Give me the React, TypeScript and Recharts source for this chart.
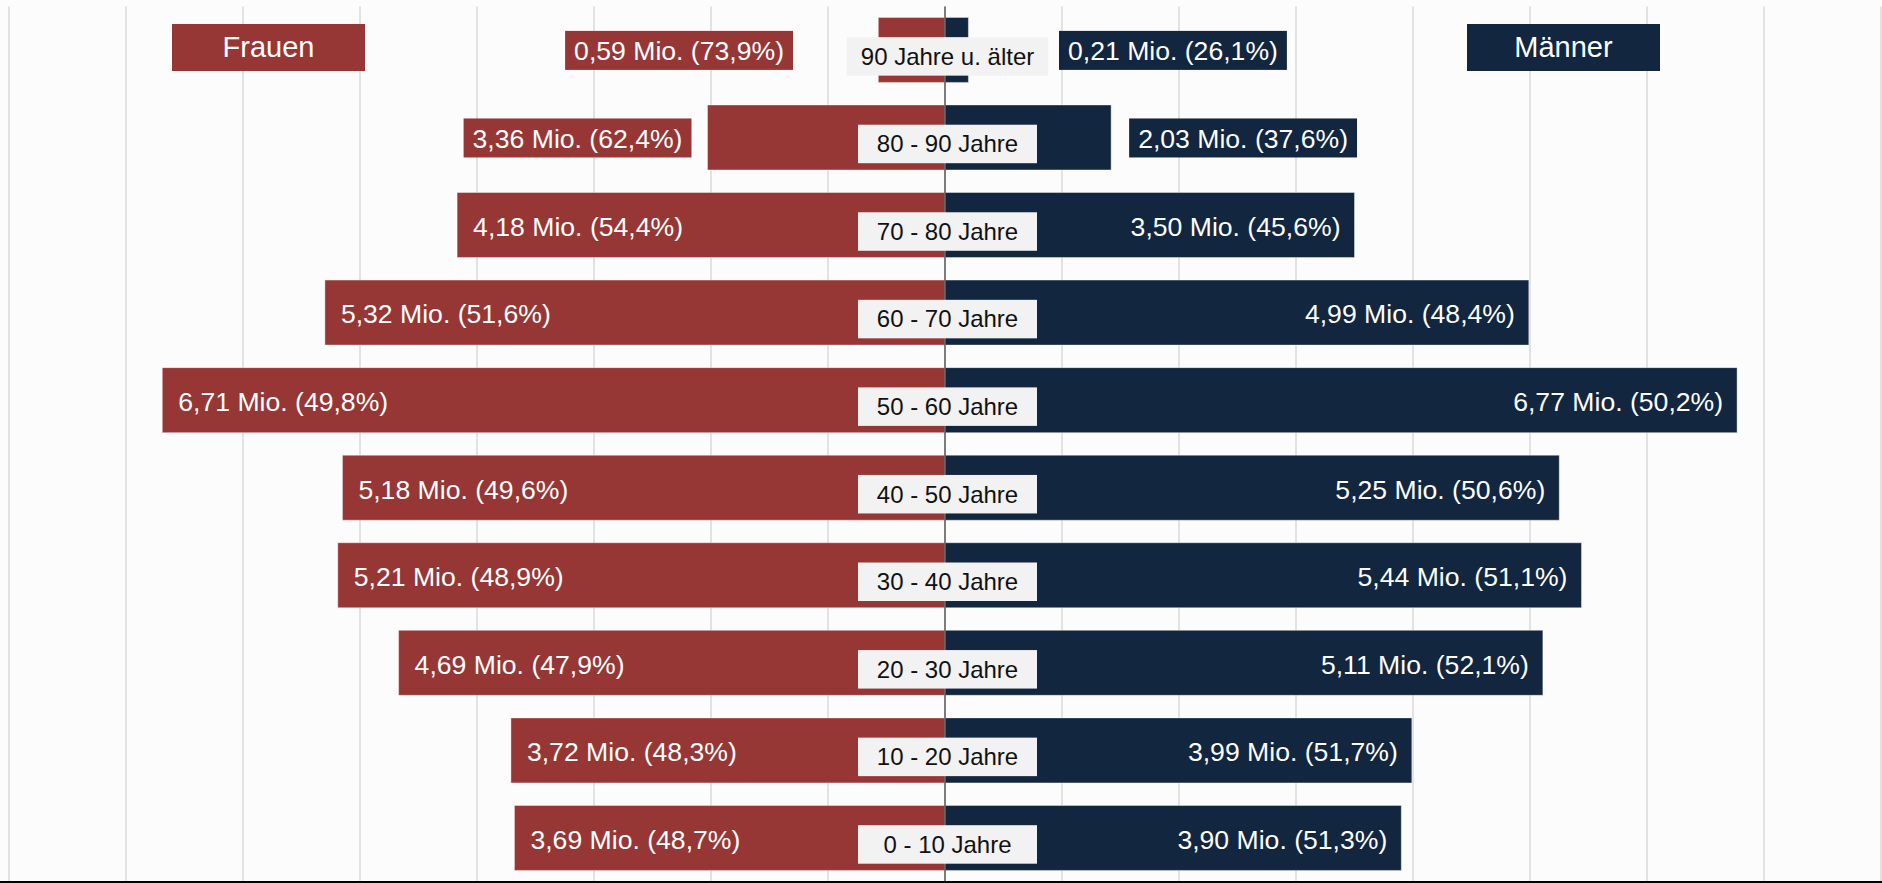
import { BarChart, Bar, XAxis, YAxis, CartesianGrid, ReferenceLine, LabelList } from "recharts";

const ages = [
  "90 Jahre u. älter",
  "80 - 90 Jahre",
  "70 - 80 Jahre",
  "60 - 70 Jahre",
  "50 - 60 Jahre",
  "40 - 50 Jahre",
  "30 - 40 Jahre",
  "20 - 30 Jahre",
  "10 - 20 Jahre",
  "0 - 10 Jahre",
];

// label values (Mio. / share in %)
const womenMio = [0.59, 3.36, 4.18, 5.32, 6.71, 5.18, 5.21, 4.69, 3.72, 3.69];
const womenPct = [73.9, 62.4, 54.4, 51.6, 49.8, 49.6, 48.9, 47.9, 48.3, 48.7];
const menMio = [0.21, 2.03, 3.5, 4.99, 6.77, 5.25, 5.44, 5.11, 3.99, 3.9];
const menPct = [26.1, 37.6, 45.6, 48.4, 50.2, 50.6, 51.1, 52.1, 51.7, 51.3];

// bar lengths as drawn in the picture (80-90 bars are shorter than their labels)
const womenBar = [0.57, 2.03, 4.17, 5.3, 6.69, 5.15, 5.19, 4.67, 3.71, 3.68];
const menBar = [0.2, 1.42, 3.5, 4.99, 6.77, 5.25, 5.44, 5.11, 3.99, 3.9];

const xTicks = [-8, -7, -6, -5, -4, -3, -2, -1, 0, 1, 2, 3, 4, 5, 6, 7, 8];

const FONT = "'Liberation Sans', Arial, sans-serif";
const RED = "#963735";
const NAVY = "#12263f";
const BG = "#fcfcfc";
const VAL_SIZE = 26.6;

const ctx = document.createElement("canvas").getContext("2d");
function measure(text: string, size: number) {
  if (!ctx) return text.length * size * 0.5;
  ctx.font = `${size}px ${FONT}`;
  return ctx.measureText(text).width;
}

const de = (v: number, d: number) => v.toFixed(d).replace(".", ",");
const fmt = (m: number, p: number) => `${de(m, 2)} Mio. (${de(p, 1)}%)`;

function box(props: any) {
  const vb = props.viewBox && props.viewBox.width !== undefined ? props.viewBox : props;
  const x0 = Math.min(vb.x, vb.x + vb.width);
  const x1 = Math.max(vb.x, vb.x + vb.width);
  const cy = vb.y + vb.height / 2;
  return { x0, x1, cy, i: Number(props.value) };
}

function WomenLabel(props: any) {
  const { x0, x1, cy, i } = box(props);
  const text = fmt(womenMio[i], womenPct[i]);
  const tw = measure(text, VAL_SIZE);
  if (x1 - x0 > tw + 40) {
    return (
      <text x={x0 + 16} y={cy + 1.5} dy="0.35em" fill="#fff" fontSize={VAL_SIZE} fontFamily={FONT}>
        {text}
      </text>
    );
  }
  const w = tw + 18;
  const right = Math.min(x0 - 16, x1 - 152);
  return (
    <g>
      <rect x={right - w} y={cy - 19} width={w} height={39} fill={RED} />
      <text x={right - w / 2} y={cy + 1} dy="0.35em" textAnchor="middle" fill="#fff" fontSize={VAL_SIZE} fontFamily={FONT}>
        {text}
      </text>
    </g>
  );
}

function MenLabel(props: any) {
  const { x0, x1, cy, i } = box(props);
  const text = fmt(menMio[i], menPct[i]);
  const tw = measure(text, VAL_SIZE);
  if (x1 - x0 > tw + 40) {
    return (
      <text x={x1 - 14} y={cy + 1.5} dy="0.35em" textAnchor="end" fill="#fff" fontSize={VAL_SIZE} fontFamily={FONT}>
        {text}
      </text>
    );
  }
  const w = tw + 18;
  const left = Math.max(x1 + 18, x0 + 114);
  return (
    <g>
      <rect x={left} y={cy - 19} width={w} height={39} fill={NAVY} />
      <text x={left + w / 2} y={cy + 1} dy="0.35em" textAnchor="middle" fill="#fff" fontSize={VAL_SIZE} fontFamily={FONT}>
        {text}
      </text>
    </g>
  );
}

function AgeLabel(props: any) {
  const { x0, cy, i } = box(props);
  const text = ages[i];
  const w = Math.max(179, measure(text, 24) + 28);
  const mid = x0 + 2.5;
  const c = cy + 6.5;
  return (
    <g>
      <rect x={mid - w / 2} y={c - 19.25} width={w} height={38.5} fill="#f2f2f2" />
      <text x={mid} y={c} dy="0.35em" textAnchor="middle" fill="#111" fontSize={24} fontFamily={FONT}>
        {text}
      </text>
    </g>
  );
}

const legendBox = (bg: string, left: number) => ({
  position: "absolute" as const,
  left,
  top: 24,
  width: 193,
  height: 47,
  background: bg,
  color: "#fff",
  fontFamily: FONT,
  fontSize: 29,
  display: "flex",
  alignItems: "center",
  justifyContent: "center",
});

// vertical grid lines at every million, placed through the axis scale
const gridX = ({ xAxis }: any) => {
  const s = xAxis && xAxis.scale;
  if (!s) return [];
  return xTicks.map((t) => (typeof s === "function" ? s(t) : s.map(t)));
};

export default function App() {
  const data = ages.map((age, i) => ({ age, i, women: -womenBar[i], men: menBar[i] }));

  return (
    <div style={{ position: "absolute", left: 0, top: 0, width: 1882, height: 883, background: BG, overflow: "hidden" }}>
      <BarChart
        width={1882}
        height={883}
        data={data}
        layout="vertical"
        stackOffset="sign"
        barSize={65}
        margin={{ top: 6.4, right: 1, bottom: 1, left: 9 }}
      >
        <CartesianGrid horizontal={false} stroke="#dadada" strokeWidth={1.5} verticalCoordinatesGenerator={gridX} />
        <XAxis type="number" domain={[-8, 8]} ticks={xTicks} hide />
        <YAxis type="category" dataKey="age" hide />
        <Bar dataKey="women" stackId="a" fill={RED} stroke="rgba(255,255,255,0.4)" strokeWidth={1} isAnimationActive={false}>
          <LabelList dataKey="i" content={WomenLabel} />
        </Bar>
        <Bar dataKey="men" stackId="a" fill={NAVY} stroke="rgba(255,255,255,0.4)" strokeWidth={1} isAnimationActive={false}>
          <LabelList dataKey="i" content={MenLabel} />
          <LabelList dataKey="i" content={AgeLabel} />
        </Bar>
        <ReferenceLine x={0} stroke="#5a5a5a" strokeWidth={1.5} />
      </BarChart>
      <div style={{ position: "absolute", left: 0, top: 881, width: 1882, height: 2, background: "#000" }} />
      <div style={legendBox(RED, 172)}>Frauen</div>
      <div style={legendBox(NAVY, 1467)}>Männer</div>
    </div>
  );
}
